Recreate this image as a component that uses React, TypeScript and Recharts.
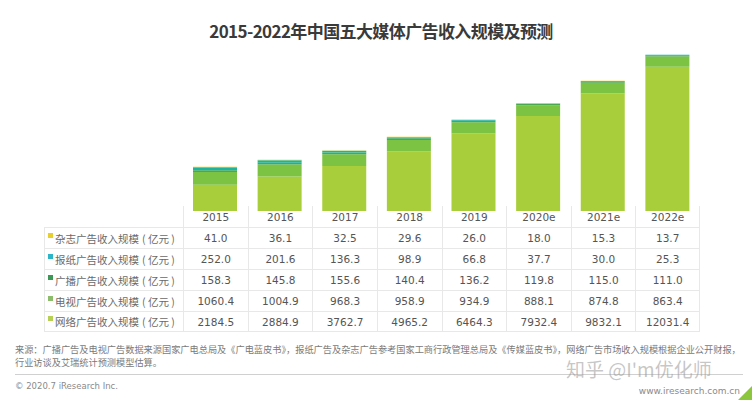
import React from "react";
import { BarChart, Bar, XAxis, YAxis } from "recharts";

const years = ["2015", "2016", "2017", "2018", "2019", "2020e", "2021e", "2022e"];
const magazine = [41.0, 36.1, 32.5, 29.6, 26.0, 18.0, 15.3, 13.7];
const newspaper = [252.0, 201.6, 136.3, 98.9, 66.8, 37.7, 30.0, 25.3];
const broadcast = [158.3, 145.8, 155.6, 140.4, 136.2, 119.8, 115.0, 111.0];
const tv = [1060.4, 1004.9, 968.3, 958.9, 934.9, 888.1, 874.8, 863.4];
const network = [2184.5, 2884.9, 3762.7, 4965.2, 6464.3, 7932.4, 9832.1, 12031.4];

const data = years.map((year, i) => ({
  year,
  network: network[i],
  tv: tv[i],
  broadcast: broadcast[i],
  newspaper: newspaper[i],
  magazine: magazine[i],
}));

// table rows top to bottom, stack goes the other way
const rows = [
  { key: "magazine", label: "杂志广告收入规模", values: magazine, bar: "#e2d21c", mark: "#e6cf2f" },
  { key: "newspaper", label: "报纸广告收入规模", values: newspaper, bar: "#1ab4a0", mark: "#2cb5c9" },
  { key: "broadcast", label: "广播广告收入规模", values: broadcast, bar: "#4aa94c", mark: "#3d9856" },
  { key: "tv", label: "电视广告收入规模", values: tv, bar: "#7cc243", mark: "#8bbd6c" },
  { key: "network", label: "网络广告收入规模", values: network, bar: "#a8cf3b", mark: "#b6cf55" },
];

const PLOT_LEFT = 183;
const PLOT_RIGHT = 700;
const COL_W = (PLOT_RIGHT - PLOT_LEFT) / years.length;
const TABLE_LEFT = 44;
const ROW_H = 21;
const LINE = "1px solid #e8e8e8";
const cjk = '"Noto Sans CJK SC", "Noto Sans", sans-serif';
const num = '"DejaVu Sans", Verdana, sans-serif';

function DataTable() {
  const cell = (left: number, top: number, width: number, content: React.ReactNode, extra: React.CSSProperties = {}) => (
    <div
      style={{
        position: "absolute", left, top, width, height: ROW_H,
        display: "flex", alignItems: "center", justifyContent: "center",
        boxSizing: "border-box", ...extra,
      }}
    >
      {content}
    </div>
  );
  const out: React.ReactNode[] = [];
  const top0 = 206;
  years.forEach((y, j) => {
    out.push(
      <React.Fragment key={"h" + j}>
        {cell(PLOT_LEFT + j * COL_W, top0, COL_W, y, {
          borderLeft: LINE, borderRight: j === years.length - 1 ? LINE : undefined,
          fontFamily: num, fontSize: 10.5, color: "#555",
        })}
      </React.Fragment>
    );
  });
  rows.forEach((r, i) => {
    const top = top0 + ROW_H * (i + 1);
    out.push(
      <React.Fragment key={"r" + i}>
        {cell(TABLE_LEFT, top, PLOT_LEFT - TABLE_LEFT, (
          <span style={{ position: "relative", paddingLeft: 9, fontFamily: cjk, fontSize: 10.5, color: "#6a6a6a", whiteSpace: "nowrap" }}>
            <span style={{ position: "absolute", left: 2, top: 2, width: 5, height: 5, background: r.mark }} />
            {r.label}
            <span style={{ marginLeft: 3 }}>( 亿元 )</span>
          </span>
        ), { borderTop: LINE, borderLeft: LINE, borderBottom: i === rows.length - 1 ? LINE : undefined, justifyContent: "flex-start", paddingLeft: 1 })}
        {r.values.map((v, j) => (
          <React.Fragment key={j}>
            {cell(PLOT_LEFT + j * COL_W, top, COL_W, v.toFixed(1), {
              borderTop: LINE, borderLeft: LINE,
              borderRight: j === years.length - 1 ? LINE : undefined,
              borderBottom: i === rows.length - 1 ? LINE : undefined,
              fontFamily: num, fontSize: 10.5, color: "#555",
            })}
          </React.Fragment>
        ))}
      </React.Fragment>
    );
  });
  return <>{out}</>;
}

export default function App() {
  return (
    <div style={{ position: "absolute", left: 0, top: 0, width: 752, height: 400, background: "#fff", overflow: "hidden" }}>
      <div
        style={{
          position: "absolute", left: 0, top: 18, width: 762, textAlign: "center",
          fontFamily: cjk, fontWeight: 700, fontSize: 17, color: "#3a3a3a", letterSpacing: -0.6,
        }}
      >
        2015-2022年中国五大媒体广告收入规模及预测
      </div>
      <div style={{ position: "absolute", left: 0, top: 0 }}>
        <BarChart width={752} height={211} data={data} margin={{ top: 54, right: 752 - PLOT_RIGHT, left: PLOT_LEFT, bottom: 0 }} barSize={44}>
          <XAxis dataKey="year" hide />
          <YAxis hide domain={[0, 13100]} />
          {rows.slice().reverse().map((r) => (
            <Bar key={r.key} dataKey={r.key} stackId="a" fill={r.bar} isAnimationActive={false} />
          ))}
        </BarChart>
      </div>
      <DataTable />
      <div
        style={{
          position: "absolute", left: 15, top: 343, whiteSpace: "nowrap",
          fontFamily: cjk, fontSize: 9.2, lineHeight: "13px", color: "#7a7a7a",
        }}
      >
        来源：广播广告及电视广告数据来源国家广电总局及《广电蓝皮书》，报纸广告及杂志广告参考国家工商行政管理总局及《传媒蓝皮书》，网络广告市场收入规模根据企业公开财报，
        <br />
        行业访谈及艾瑞统计预测模型估算。
      </div>
      <div style={{ position: "absolute", left: 15, top: 374, width: 728, borderTop: "1px solid #d0d0d0" }} />
      <div style={{ position: "absolute", left: 15, top: 381, fontFamily: num, fontSize: 8.5, lineHeight: "11px", color: "#8a8a8a" }}>
        © 2020.7 iResearch Inc.
      </div>
      <div style={{ position: "absolute", right: 12, top: 386, fontFamily: num, fontSize: 9, lineHeight: "11px", color: "#8a8a8a" }}>
        www.iresearch.com.cn
      </div>
      <div style={{ position: "absolute", left: 566, top: 359, fontFamily: cjk, fontSize: 19, lineHeight: "20px", color: "rgba(150,150,150,0.55)", whiteSpace: "nowrap" }}>
        知乎 @I'm优化师
      </div>
      <div
        style={{
          position: "absolute", right: 0, bottom: 0, width: 0, height: 0,
          borderLeft: "14px solid transparent", borderBottom: "14px solid #8cc63f",
        }}
      />
    </div>
  );
}
